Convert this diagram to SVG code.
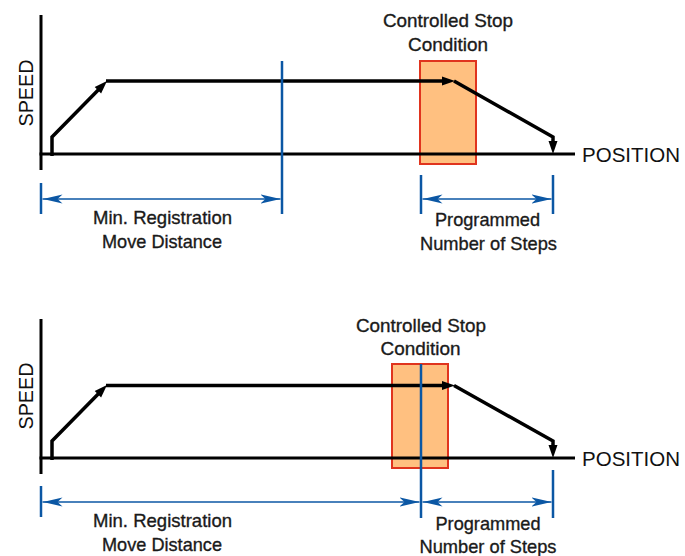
<svg xmlns="http://www.w3.org/2000/svg" width="685" height="556" viewBox="0 0 685 556">
<style>
.axis{stroke:#000;stroke-width:3;fill:none}
.prof{stroke:#000;stroke-width:3.5;fill:none;stroke-linejoin:miter}
.blue{stroke:#0B57A4;stroke-width:2.5;fill:none}
.dim{stroke:#0B57A4;stroke-width:1.7;fill:none}
.zone{fill:#FFC080;stroke:#E0341E;stroke-width:2}
.lbl{font-family:"Liberation Sans",Arial,sans-serif;font-size:19px;fill:#1a1a1a;stroke:#1a1a1a;stroke-width:0.35;text-anchor:middle}
.ax{font-family:"Liberation Sans",Arial,sans-serif;font-size:20.5px;fill:#111}
</style>
<defs>
<marker id="ah" markerUnits="userSpaceOnUse" markerWidth="14" markerHeight="10" viewBox="0 0 13 10" refX="5" refY="5" orient="auto">
<path d="M0,0.5 L13,5 L0,9.5 Z" fill="#000"/>
</marker>
<marker id="bh" markerUnits="userSpaceOnUse" markerWidth="20" markerHeight="10" viewBox="0 0 20 10" refX="20" refY="5" orient="auto-start-reverse">
<path d="M0,0.5 L20,5 L0,9.5 L5,5 Z" fill="#0B57A4"/>
</marker>
</defs>

<!-- Top diagram -->
<g id="top-zone"><rect class="zone" x="420" y="61" width="56" height="103"/></g>
<g id="top-axes">
<line class="axis" x1="41" y1="15" x2="41" y2="170"/>
<line class="axis" x1="39.5" y1="154" x2="575" y2="154"/>
<text class="ax" x="33" y="93" transform="rotate(-90 33 93)" text-anchor="middle" textLength="67" lengthAdjust="spacingAndGlyphs">SPEED</text>
<text class="ax" x="582" y="162" textLength="98" lengthAdjust="spacingAndGlyphs">POSITION</text>
</g>
<g id="top-profile">
<path class="prof" d="M52,156 V137 L101.4,86.7" marker-end="url(#ah)"/>
<path class="prof" d="M106,81 H447" marker-end="url(#ah)"/>
<path class="prof" d="M454,81 L553,137 V146" marker-end="url(#ah)"/>
</g>
<g id="top-stop-label">
<text class="lbl" x="448" y="27" textLength="130" lengthAdjust="spacingAndGlyphs">Controlled Stop</text>
<text class="lbl" x="448" y="51" textLength="80" lengthAdjust="spacingAndGlyphs">Condition</text>
</g>
<g id="top-connectors">
<line class="blue" x1="41" y1="183" x2="41" y2="214"/>
<line class="blue" x1="282" y1="61" x2="282" y2="214"/>
<line class="blue" x1="421" y1="175" x2="421" y2="214"/>
<line class="blue" x1="553" y1="175" x2="553" y2="214"/>
<line class="dim" x1="42.5" y1="199" x2="280.5" y2="199" marker-start="url(#bh)" marker-end="url(#bh)"/>
<line class="dim" x1="422.5" y1="199" x2="551.5" y2="199" marker-start="url(#bh)" marker-end="url(#bh)"/>
</g>
<g id="top-min-label">
<text class="lbl" x="162.5" y="224" textLength="139" lengthAdjust="spacingAndGlyphs">Min. Registration</text>
<text class="lbl" x="162" y="248" textLength="120" lengthAdjust="spacingAndGlyphs">Move Distance</text>
</g>
<g id="top-prog-label">
<text class="lbl" x="487.5" y="226" textLength="105" lengthAdjust="spacingAndGlyphs">Programmed</text>
<text class="lbl" x="488.5" y="250" textLength="137" lengthAdjust="spacingAndGlyphs">Number of Steps</text>
</g>

<!-- Bottom diagram -->
<g id="bottom-zone"><rect class="zone" x="392" y="364" width="56" height="104"/></g>
<g id="bottom-axes">
<line class="axis" x1="41" y1="319" x2="41" y2="474"/>
<line class="axis" x1="39.5" y1="458" x2="575" y2="458"/>
<text class="ax" x="33" y="396" transform="rotate(-90 33 396)" text-anchor="middle" textLength="67" lengthAdjust="spacingAndGlyphs">SPEED</text>
<text class="ax" x="582" y="466" textLength="98" lengthAdjust="spacingAndGlyphs">POSITION</text>
</g>
<g id="bottom-profile">
<path class="prof" d="M52,460 V441 L101.4,390.7" marker-end="url(#ah)"/>
<path class="prof" d="M106,385.5 H447" marker-end="url(#ah)"/>
<path class="prof" d="M454,385.5 L553,441 V450" marker-end="url(#ah)"/>
</g>
<g id="bottom-stop-label">
<text class="lbl" x="421" y="332" textLength="130" lengthAdjust="spacingAndGlyphs">Controlled Stop</text>
<text class="lbl" x="420.5" y="355" textLength="80" lengthAdjust="spacingAndGlyphs">Condition</text>
</g>
<g id="bottom-connectors">
<line class="blue" x1="41" y1="486" x2="41" y2="517"/>
<line class="blue" x1="421" y1="364" x2="421" y2="518"/>
<line class="blue" x1="553" y1="470" x2="553" y2="518"/>
<line class="dim" x1="42.5" y1="502" x2="419.5" y2="502" marker-start="url(#bh)" marker-end="url(#bh)"/>
<line class="dim" x1="422.5" y1="502" x2="551.5" y2="502" marker-start="url(#bh)" marker-end="url(#bh)"/>
</g>
<g id="bottom-min-label">
<text class="lbl" x="162.5" y="527" textLength="139" lengthAdjust="spacingAndGlyphs">Min. Registration</text>
<text class="lbl" x="162" y="551" textLength="120" lengthAdjust="spacingAndGlyphs">Move Distance</text>
</g>
<g id="bottom-prog-label">
<text class="lbl" x="488" y="530" textLength="105" lengthAdjust="spacingAndGlyphs">Programmed</text>
<text class="lbl" x="488" y="553" textLength="137" lengthAdjust="spacingAndGlyphs">Number of Steps</text>
</g>
</svg>
